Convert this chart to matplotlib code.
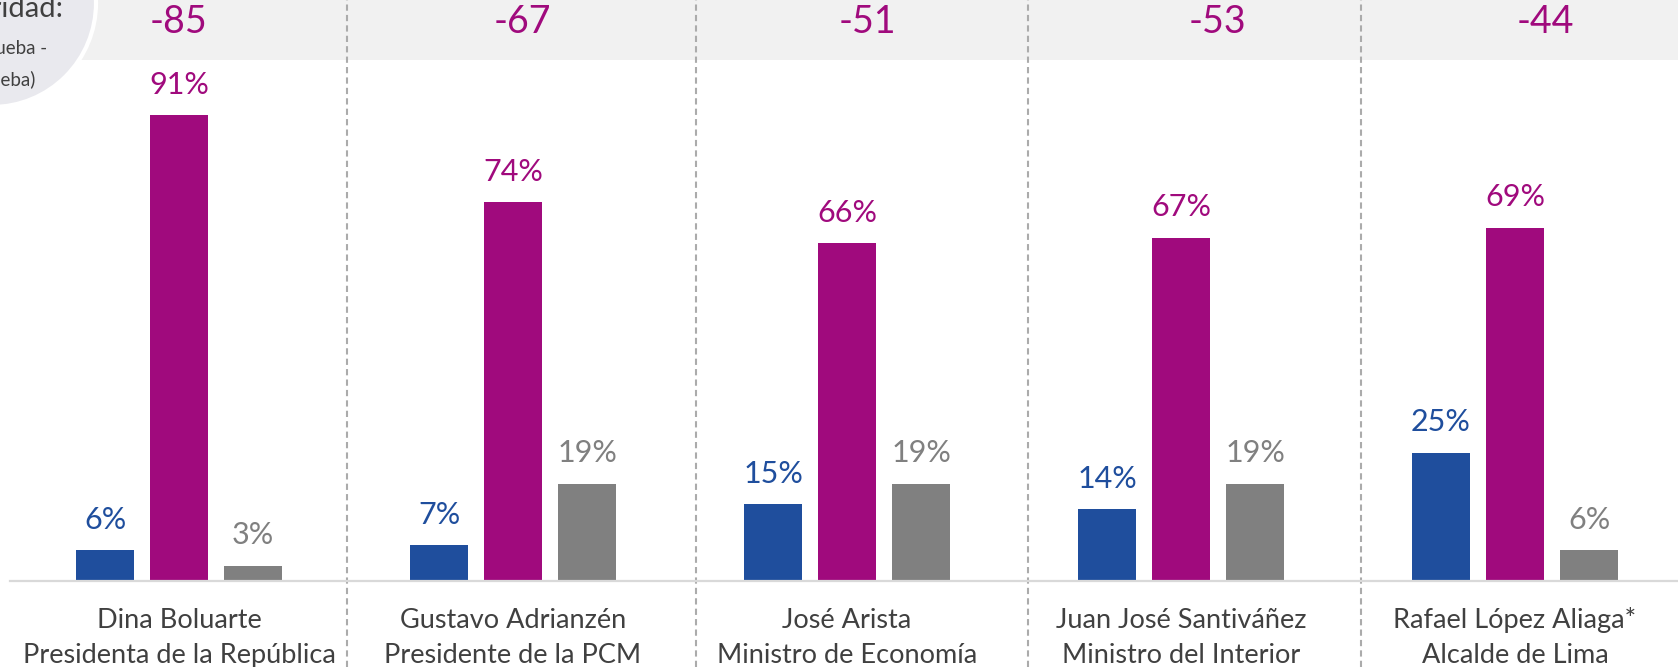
import numpy as np
import matplotlib
matplotlib.use('Agg')
import matplotlib.pyplot as plt
from matplotlib.patches import Circle

# data
names = ['Dina Boluarte\nPresidenta de la República',
         'Gustavo Adrianzén\nPresidente de la PCM',
         'José Arista\nMinistro de Economía',
         'Juan José Santiváñez\nMinistro del Interior',
         'Rafael López Aliaga*\nAlcalde de Lima']
aprueba = [6, 7, 15, 14, 25]
desaprueba = [91, 74, 66, 67, 69]
nsnp = [3, 19, 19, 19, 6]
saldo = [-85, -67, -51, -53, -44]

blue = '#1F4E9D'
magenta = '#A00A7D'
grey = '#808080'
txt = '#404040'

plt.rcParams['font.family'] = ['Lato', 'DejaVu Sans']

W, H = 1678, 667
fig = plt.figure(figsize=(W / 100, H / 100), dpi=100)
base_px = 86           # baseline, px from bottom
ppu = 5.12             # px per percentage point
ytop = (H - base_px) / ppu
ax = fig.add_axes([0, base_px / H, 1, (H - base_px) / H])
gx = 334.0             # px between group centres
x0 = 179.0             # px of first group centre
ax.set_xlim(-x0 / gx, (W - x0) / gx)
ax.set_ylim(0, ytop)
ax.axis('off')

x = np.arange(len(names))
bw = 58 / gx
off = 74 / gx
# separators and net labels are not quite centred in the original
sep_pos = [0.503, 1.548, 2.542, 3.539]
net_shift = [0.0, 0.027, 0.06, 0.11, 0.09]

# grey band on top with the net values
band = 60 / ppu
ax.axhspan(ytop - band, ytop, color='#F1F1F1', zorder=0, lw=0)
for xi, s, sh in zip(x, saldo, net_shift):
    ax.text(xi + sh, ytop - 22 / ppu, str(s), ha='center', va='center',
            fontsize=27, color=magenta)

# bars
for vals, dx, col in [(aprueba, -off, blue), (desaprueba, 0, magenta), (nsnp, off, grey)]:
    ax.bar(x + dx, vals, width=bw, color=col, zorder=2)
    for xi, v in zip(x, vals):
        ax.annotate('%d%%' % v, (xi + dx, v), xytext=(0, 22), textcoords='offset points',
                    ha='center', va='center', fontsize=22, color=col)

# baseline
ax.plot([(10 - x0) / gx, (W - x0) / gx], [0, 0], color='#D9D9D9', lw=1.6, zorder=3,
        clip_on=False)

# dashed separators
for s in sep_pos:
    ax.plot([s, s], [-base_px / ppu, ytop], color='#ABABAB', lw=1.5,
            ls=(0, (3, 2)), clip_on=False, zorder=1)

# category labels
for xi, n in zip(x, names):
    l1, l2 = n.split('\n')
    ax.text(xi, -47 / ppu, l1, ha='center', va='baseline', fontsize=19.5, color=txt,
            clip_on=False)
    ax.text(xi, -82 / ppu, l2, ha='center', va='baseline', fontsize=19.5, color=txt,
            clip_on=False)

# the clipped circle in the top-left corner
circ = Circle((-8, H - 3), 104, transform=None, facecolor='#E9E9EE',
              edgecolor='white', lw=3, zorder=4)
fig.patches.append(circ)
fig.text(63 / W, 1 - 17 / H, 'Popularidad:', ha='right', va='baseline', fontsize=21,
         color=txt, zorder=5)
fig.text(47 / W, 1 - 48 / H, '(Aprueba -', ha='right', va='center', fontsize=13.5,
         color=txt, zorder=5)
fig.text(36 / W, 1 - 80 / H, 'Desaprueba)', ha='right', va='center', fontsize=13.5,
         color=txt, zorder=5)

plt.savefig('out.png', dpi=100)
